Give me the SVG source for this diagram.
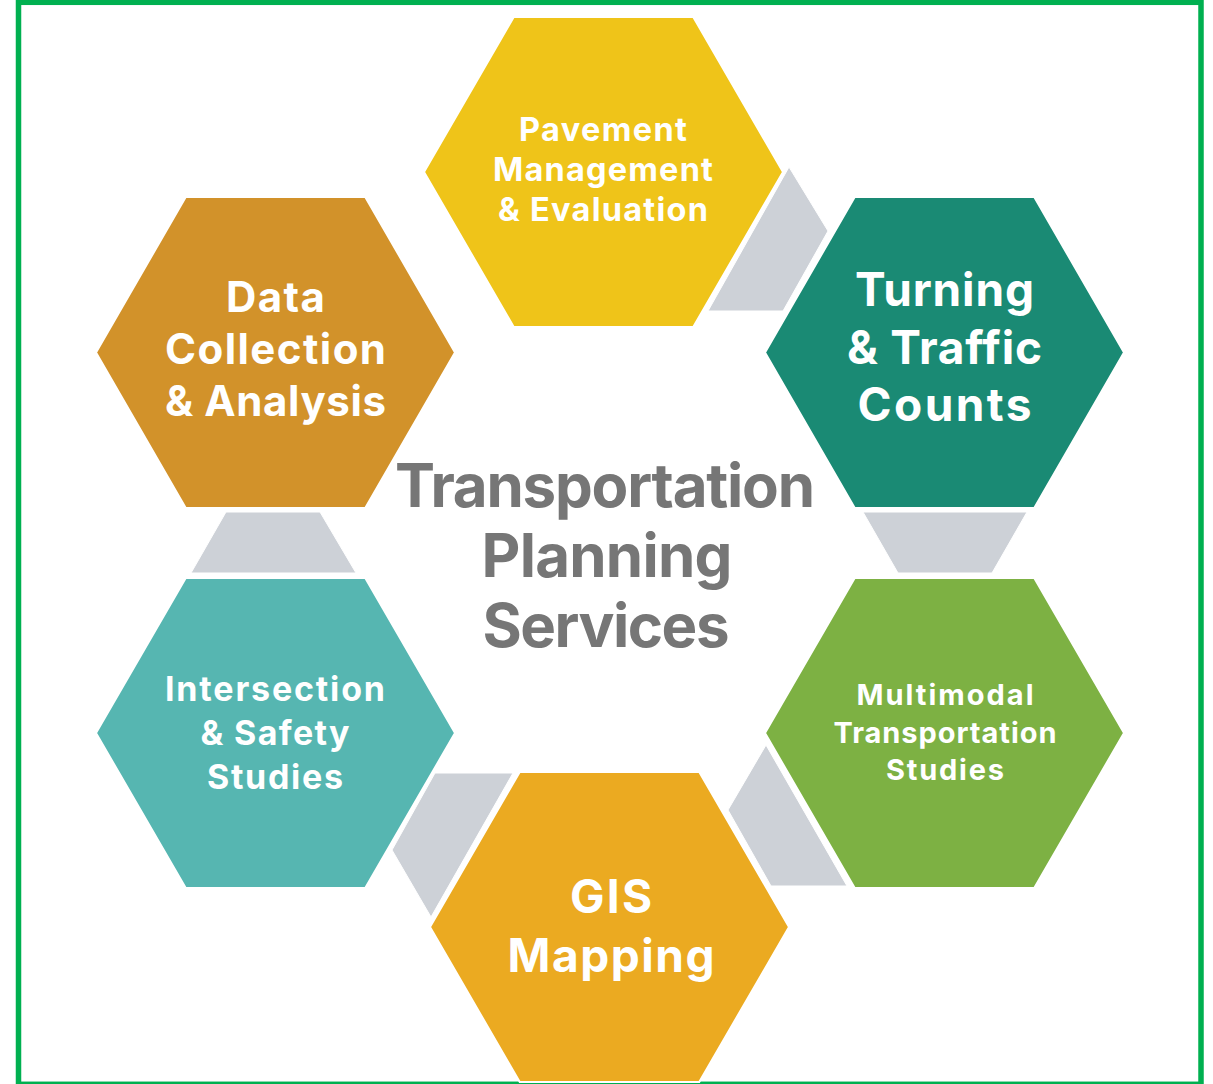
<svg xmlns="http://www.w3.org/2000/svg" width="1213" height="1084" viewBox="0 0 1213 1084">
<style>
.hex{stroke:#ffffff;stroke-width:2;stroke-linejoin:miter}
.con{fill:#CDD1D7;stroke:#ffffff;stroke-width:1}
.lbl{font-family:Inter,"Noto Sans",sans-serif;font-weight:700;fill:#ffffff;text-anchor:middle}
.title{font-family:Inter,"Noto Sans",sans-serif;font-weight:700;fill:#767676;text-anchor:middle}
</style>
<rect x="0" y="0" width="1213" height="1084" fill="#ffffff"/>
<rect id="frame" x="18.5" y="2.3" width="1182.5" height="1082" fill="none" stroke="#00B050" stroke-width="5.5"/>
<g id="connectors">
<polygon class="con" points="789,167 828,231 783,311 708,311"/>
<polygon class="con" points="863,512 1027,512 992,573 898,573"/>
<polygon class="con" points="766,745 847,886 771,886 728,810"/>
<polygon class="con" points="435,773 513,773 431,917 392,850"/>
<polygon class="con" points="226,512 320,512 356,573 191,573"/>
</g>
<g id="pavement">
<polygon class="hex" fill="#EFC419" points="424,172 513.75,17 693.25,17 783,172 693.25,327 513.75,327"/>
<text class="lbl" font-size="32.5" x="603" y="141" textLength="168" lengthAdjust="spacing">Pavement</text>
<text class="lbl" font-size="32.5" x="603" y="181" textLength="220" lengthAdjust="spacing">Management</text>
<text class="lbl" font-size="32.5" x="603" y="221" textLength="210" lengthAdjust="spacing">&amp; Evaluation</text>
</g>
<g id="turning">
<polygon class="hex" fill="#1A8A74" points="765,352.5 854.75,197 1034.25,197 1124,352.5 1034.25,508 854.75,508"/>
<text class="lbl" font-size="46" x="944.5" y="306" textLength="179" lengthAdjust="spacing">Turning</text>
<text class="lbl" font-size="46" x="944.5" y="364" textLength="195" lengthAdjust="spacing">&amp; Traffic</text>
<text class="lbl" font-size="46" x="944.5" y="421" textLength="174" lengthAdjust="spacing">Counts</text>
</g>
<g id="multimodal">
<polygon class="hex" fill="#7DB143" points="765,733 854.75,578 1034.25,578 1124,733 1034.25,888 854.75,888"/>
<text class="lbl" font-size="29" x="945" y="705" textLength="177" lengthAdjust="spacing">Multimodal</text>
<text class="lbl" font-size="29" x="945" y="743" textLength="223" lengthAdjust="spacing">Transportation</text>
<text class="lbl" font-size="29" x="945" y="780" textLength="118" lengthAdjust="spacing">Studies</text>
</g>
<g id="gis">
<polygon class="hex" fill="#EBAA21" points="430,927 519.75,772 699.25,772 789,927 699.25,1082 519.75,1082"/>
<text class="lbl" font-size="46" x="611" y="913" textLength="82" lengthAdjust="spacing">GIS</text>
<text class="lbl" font-size="46" x="611" y="972" textLength="207" lengthAdjust="spacing">Mapping</text>
</g>
<g id="intersection">
<polygon class="hex" fill="#56B6B1" points="96,733 185.75,578 365.25,578 455,733 365.25,888 185.75,888"/>
<text class="lbl" font-size="34" x="275" y="701" textLength="220" lengthAdjust="spacing">Intersection</text>
<text class="lbl" font-size="34" x="275" y="745" textLength="149" lengthAdjust="spacing">&amp; Safety</text>
<text class="lbl" font-size="34" x="275" y="789" textLength="136" lengthAdjust="spacing">Studies</text>
</g>
<g id="data">
<polygon class="hex" fill="#D2922A" points="96,352.5 185.75,197 365.25,197 455,352.5 365.25,508 185.75,508"/>
<text class="lbl" font-size="42" x="275.5" y="312" textLength="99" lengthAdjust="spacing">Data</text>
<text class="lbl" font-size="42" x="275.5" y="364" textLength="221" lengthAdjust="spacing">Collection</text>
<text class="lbl" font-size="42" x="275.5" y="416" textLength="221" lengthAdjust="spacing">&amp; Analysis</text>
</g>
<g id="center-title">
<text class="title" font-size="60" x="605" y="507" textLength="420" lengthAdjust="spacing">Transportation</text>
<text class="title" font-size="60" x="607" y="577" textLength="251" lengthAdjust="spacing">Planning</text>
<text class="title" font-size="60" x="606" y="647" textLength="247" lengthAdjust="spacing">Services</text>
</g>
</svg>
